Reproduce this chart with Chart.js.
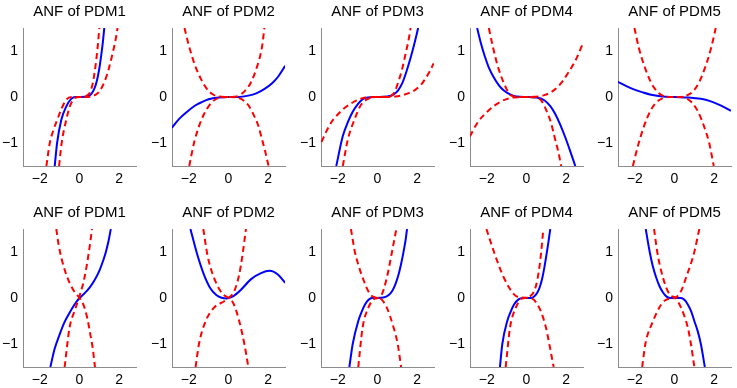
<!DOCTYPE html>
<html>
<head>
<meta charset="utf-8">
<script src="https://cdn.jsdelivr.net/npm/chart.js@4/dist/chart.umd.min.js"></script>
<style>
  body { margin: 0; background: #fff; width: 737px; height: 388px; overflow: hidden; position: relative; }
  .panel { position: absolute; width: 143px; height: 188px; }
</style>
</head>
<body>
<script>
const titles = ["ANF of PDM1", "ANF of PDM2", "ANF of PDM3", "ANF of PDM4", "ANF of PDM5"];
const xTicks = [-2, 0, 2];
const yTicks = [-1, 0, 1];
const xLimits = [-2.85, 2.85];
const yLimits = [-1.5, 1.5];

// top row: [x, y] pairs
const top1Blue = [[-1.25,-1.5],[-1.13,-1.0],[-0.92,-0.5],[-0.67,-0.21],[-0.42,-0.04],[-0.2,0],[0.1,0],[0.4,0.01],[0.6,0.07],[0.75,0.18],[0.88,0.36],[1.0,0.62],[1.1,0.92],[1.18,1.2],[1.25,1.5]];
const top1RedA = [[-1.67,-1.5],[-1.5,-1.0],[-1.3,-0.7],[-1.13,-0.5],[-0.9,-0.25],[-0.67,-0.06],[-0.4,0],[0,0],[0.3,0.02],[0.5,0.08],[0.67,0.3],[0.83,0.75],[0.93,1.15],[1.0,1.5]];
const top1RedB = [[-1.03,-1.5],[-0.9,-1.0],[-0.67,-0.5],[-0.5,-0.22],[-0.3,-0.05],[0,0],[0.3,0],[0.65,0.02],[1.0,0.12],[1.33,0.41],[1.5,0.65],[1.67,0.95],[1.8,1.2],[1.92,1.5]];

const top2Blue = [[-2.86,-0.67],[-2.5,-0.48],[-2.06,-0.31],[-1.7,-0.19],[-1.39,-0.12],[-1.0,-0.05],[-0.5,-0.01],[0,0],[0.5,0],[1.0,0.03],[1.4,0.08],[1.8,0.17],[2.2,0.3],[2.5,0.44],[2.86,0.68]];
const top2RedA = [[-2.22,1.5],[-2.0,1.12],[-1.7,0.7],[-1.4,0.4],[-1.1,0.18],[-0.8,0.06],[-0.5,0.01],[0,0],[0.5,-0.02],[0.8,-0.09],[1.05,-0.21],[1.28,-0.4],[1.5,-0.62],[1.69,-0.92],[1.85,-1.18],[2.02,-1.5]];
const top2RedB = [[-1.98,-1.5],[-1.73,-0.98],[-1.5,-0.65],[-1.22,-0.36],[-0.95,-0.17],[-0.72,-0.07],[-0.4,-0.01],[0,0],[0.4,0.01],[0.7,0.08],[0.9,0.17],[1.11,0.3],[1.44,0.66],[1.69,1.09],[1.81,1.5]];

const top3Blue = [[-2.08,-1.5],[-1.75,-0.85],[-1.5,-0.55],[-1.25,-0.32],[-1.0,-0.16],[-0.75,-0.05],[-0.5,-0.01],[0,0],[0.5,0.01],[0.8,0.05],[1.05,0.15],[1.25,0.3],[1.42,0.5],[1.6,0.75],[1.75,0.98],[1.9,1.23],[2.05,1.5]];
const top3RedA = [[-2.83,-0.98],[-2.5,-0.68],[-2.25,-0.5],[-2.0,-0.38],[-1.75,-0.27],[-1.4,-0.16],[-1.08,-0.08],[-0.6,-0.01],[0,0],[0.58,0.01],[0.85,0.1],[1.08,0.37],[1.25,0.62],[1.42,0.95],[1.55,1.2],[1.67,1.5]];
const top3RedB = [[-1.75,-1.5],[-1.5,-0.93],[-1.17,-0.5],[-0.83,-0.17],[-0.42,-0.03],[0,0],[0.5,0],[0.9,0.01],[1.25,0.04],[1.6,0.09],[1.92,0.16],[2.2,0.27],[2.42,0.4],[2.65,0.57],[2.83,0.73]];

const top4Blue = [[-2.49,1.5],[-2.3,1.17],[-2.1,0.88],[-1.9,0.64],[-1.64,0.42],[-1.4,0.26],[-1.14,0.14],[-0.8,0.05],[-0.5,0.01],[0,0],[0.5,-0.01],[0.9,-0.07],[1.2,-0.2],[1.45,-0.37],[1.7,-0.6],[1.95,-0.87],[2.2,-1.17],[2.46,-1.5]];
const top4RedA = [[-1.9,1.5],[-1.7,1.1],[-1.47,0.7],[-1.14,0.3],[-0.8,0.04],[-0.4,0],[0,0],[0.4,-0.01],[0.73,-0.07],[1.07,-0.36],[1.25,-0.58],[1.41,-0.86],[1.6,-1.18],[1.75,-1.5]];
const top4RedB = [[-2.86,-0.86],[-2.49,-0.57],[-1.98,-0.32],[-1.3,-0.1],[-0.63,-0.01],[0,0],[0.9,0.04],[1.58,0.22],[2.08,0.51],[2.5,0.82],[2.85,1.17]];

const top5Blue = [[-2.85,0.33],[-2.4,0.23],[-2.02,0.16],[-1.6,0.1],[-1.18,0.05],[-0.6,0.01],[0,0],[0.7,-0.01],[1.33,-0.04],[1.8,-0.09],[2.15,-0.15],[2.5,-0.22],[2.85,-0.3]];
const top5RedA = [[-2.02,1.5],[-1.8,1.07],[-1.5,0.65],[-1.2,0.33],[-0.9,0.13],[-0.6,0.03],[-0.3,0],[0.3,0],[0.6,-0.03],[0.9,-0.13],[1.2,-0.33],[1.5,-0.65],[1.75,-1.0],[1.98,-1.5]];
const top5RedB = [[-2.1,-1.5],[-1.85,-1.07],[-1.55,-0.65],[-1.25,-0.33],[-0.95,-0.13],[-0.6,-0.03],[-0.3,0],[0.3,0],[0.6,0.03],[0.95,0.13],[1.25,0.33],[1.55,0.65],[1.85,1.07],[2.08,1.5]];

// bottom row
const bot1Blue = [[-1.47,-1.5],[-1.25,-1.1],[-1.0,-0.79],[-0.75,-0.52],[-0.5,-0.32],[-0.25,-0.14],[0,0],[0.25,0.1],[0.5,0.22],[0.75,0.38],[1.0,0.59],[1.2,0.82],[1.33,1.0],[1.47,1.25],[1.58,1.5]];
const bot1RedA = [[-1.17,1.5],[-1.05,1.15],[-0.9,0.85],[-0.7,0.55],[-0.5,0.33],[-0.25,0.13],[0,0],[0.2,-0.15],[0.4,-0.45],[0.55,-0.8],[0.67,-1.1],[0.78,-1.5]];
const bot1RedB = [[-0.75,-1.5],[-0.5,-0.64],[-0.25,-0.28],[-0.03,0],[0.25,0.44],[0.47,0.99],[0.63,1.5]];

const bot2Blue = [[-1.92,1.5],[-1.58,0.95],[-1.24,0.51],[-0.9,0.2],[-0.6,0.06],[-0.35,0.005],[-0.1,-0.01],[0.15,0.02],[0.4,0.09],[0.63,0.18],[1.14,0.41],[1.64,0.54],[2.07,0.59],[2.49,0.51],[2.86,0.33]];
const bot2RedA = [[-1.27,1.5],[-1.07,0.95],[-0.9,0.65],[-0.73,0.44],[-0.45,0.18],[-0.22,0.06],[0,0],[0.25,-0.12],[0.54,-0.5],[0.8,-1.0],[1.0,-1.5]];
const bot2RedB = [[-1.66,-1.5],[-1.49,-1.0],[-1.15,-0.5],[-0.73,-0.21],[-0.22,-0.07],[0,0],[0.29,0.15],[0.54,0.51],[0.71,0.95],[0.88,1.5]];

const bot3Blue = [[-1.42,-1.5],[-1.25,-1.0],[-0.97,-0.5],[-0.8,-0.3],[-0.63,-0.14],[-0.45,-0.04],[-0.29,0],[0,0],[0.3,0.01],[0.55,0.06],[0.75,0.16],[0.92,0.32],[1.07,0.52],[1.2,0.76],[1.32,1.02],[1.42,1.27],[1.49,1.5]];
const bot3RedA = [[-0.97,-1.5],[-0.75,-0.64],[-0.46,-0.21],[-0.2,-0.03],[0,0],[0.22,0.08],[0.47,0.44],[0.73,1.0],[0.95,1.5]];
const bot3RedB = [[-1.34,1.5],[-1.14,1.0],[-0.95,0.7],[-0.75,0.44],[-0.37,0.08],[0,0],[0.2,-0.03],[0.47,-0.21],[0.81,-0.64],[1.02,-1.0],[1.19,-1.5]];

const bot4Blue = [[-1.34,-1.5],[-1.22,-1.0],[-0.97,-0.5],[-0.8,-0.3],[-0.63,-0.14],[-0.4,-0.03],[-0.2,0],[0.22,0],[0.4,0.04],[0.55,0.12],[0.68,0.25],[0.8,0.44],[0.9,0.66],[1.0,0.92],[1.1,1.2],[1.2,1.5]];
const bot4RedA = [[-1.05,-1.5],[-0.83,-0.64],[-0.54,-0.21],[-0.3,-0.03],[-0.12,0],[0.15,0.03],[0.39,0.15],[0.55,0.4],[0.69,0.8],[0.85,1.5]];
const bot4RedB = [[-2.02,1.5],[-1.64,1.0],[-1.14,0.44],[-0.63,0.08],[-0.3,0.01],[0.2,0],[0.64,-0.21],[0.98,-0.64],[1.15,-1.0],[1.37,-1.5]];

const bot5Blue = [[-1.45,1.5],[-1.25,1.0],[-1.1,0.7],[-0.92,0.44],[-0.75,0.25],[-0.58,0.12],[-0.4,0.03],[-0.17,0],[0.33,0],[0.5,-0.04],[0.67,-0.14],[0.85,-0.3],[1.0,-0.5],[1.17,-0.72],[1.33,-1.0],[1.53,-1.5]];
const bot5RedA = [[-1.03,1.5],[-0.87,1.0],[-0.58,0.44],[-0.25,0.08],[0.05,0],[0.33,-0.21],[0.67,-0.64],[0.83,-1.0],[1.0,-1.5]];
const bot5RedB = [[-1.63,-1.5],[-1.47,-1.0],[-1.08,-0.5],[-0.67,-0.14],[-0.33,-0.02],[0,0],[0.33,0.15],[0.58,0.44],[1.0,1.0],[1.25,1.5]];

const plotLeft = [23, 172, 321, 470, 618];
const rowTop = [0, 201];

Chart.defaults.font.family = "'Liberation Sans', Arial, Helvetica, sans-serif";

function toPoints(pairs) {
    return pairs.map(p => ({ x: p[0], y: p[1] }));
}

function tickText(v) {
    return v < 0 ? "\u2212" + Math.abs(v) : String(v);
}

function makePanel(row, col, blue, redA, redB) {
    const canvas = document.createElement("canvas");
    canvas.width = 143;
    canvas.height = 188;
    canvas.className = "panel";
    canvas.style.left = (plotLeft[col] - 24) + "px";
    canvas.style.top = rowTop[row] + "px";
    document.body.appendChild(canvas);

    const dashed = {
        borderColor: "#ff0000",
        borderWidth: 2,
        borderDash: [6, 4],
        pointRadius: 0,
        fill: false,
        cubicInterpolationMode: "monotone",
        order: 1
    };

    new Chart(canvas, {
        type: "line",
        data: {
            datasets: [
                { data: toPoints(blue), borderColor: "#0000ff", borderWidth: 2, pointRadius: 0,
                  fill: false, cubicInterpolationMode: "monotone", order: 2 },
                { ...dashed, data: toPoints(redA) },
                { ...dashed, data: toPoints(redB) }
            ]
        },
        options: {
            responsive: false,
            animation: false,
            events: [],
            layout: { padding: { right: 6 } },
            plugins: {
                legend: { display: false },
                tooltip: { enabled: false },
                title: {
                    display: true,
                    text: titles[col],
                    fullSize: false,
                    color: "#000",
                    font: { size: 15, weight: "normal" },
                    padding: { top: 3, bottom: 7 }
                }
            },
            scales: {
                x: {
                    type: "linear",
                    min: xLimits[0],
                    max: xLimits[1],
                    grid: { display: false, drawTicks: false },
                    border: { color: "#8c8c8c", width: 1 },
                    afterBuildTicks: s => { s.ticks = xTicks.map(v => ({ value: v })); },
                    afterFit: s => { s.height = 22; },
                    ticks: { color: "#000", padding: 5, font: { size: 14 }, maxRotation: 0, callback: v => tickText(v) }
                },
                y: {
                    type: "linear",
                    min: yLimits[0],
                    max: yLimits[1],
                    grid: { display: false, drawTicks: false },
                    border: { color: "#8c8c8c", width: 1 },
                    afterBuildTicks: s => { s.ticks = yTicks.map(v => ({ value: v })); },
                    afterFit: s => { s.width = 24; },
                    ticks: { color: "#000", padding: 5, font: { size: 14 }, callback: v => tickText(v) }
                }
            }
        }
    });
}

makePanel(0, 0, top1Blue, top1RedA, top1RedB);
makePanel(0, 1, top2Blue, top2RedA, top2RedB);
makePanel(0, 2, top3Blue, top3RedA, top3RedB);
makePanel(0, 3, top4Blue, top4RedA, top4RedB);
makePanel(0, 4, top5Blue, top5RedA, top5RedB);
makePanel(1, 0, bot1Blue, bot1RedA, bot1RedB);
makePanel(1, 1, bot2Blue, bot2RedA, bot2RedB);
makePanel(1, 2, bot3Blue, bot3RedA, bot3RedB);
makePanel(1, 3, bot4Blue, bot4RedA, bot4RedB);
makePanel(1, 4, bot5Blue, bot5RedA, bot5RedB);
</script>
</body>
</html>
